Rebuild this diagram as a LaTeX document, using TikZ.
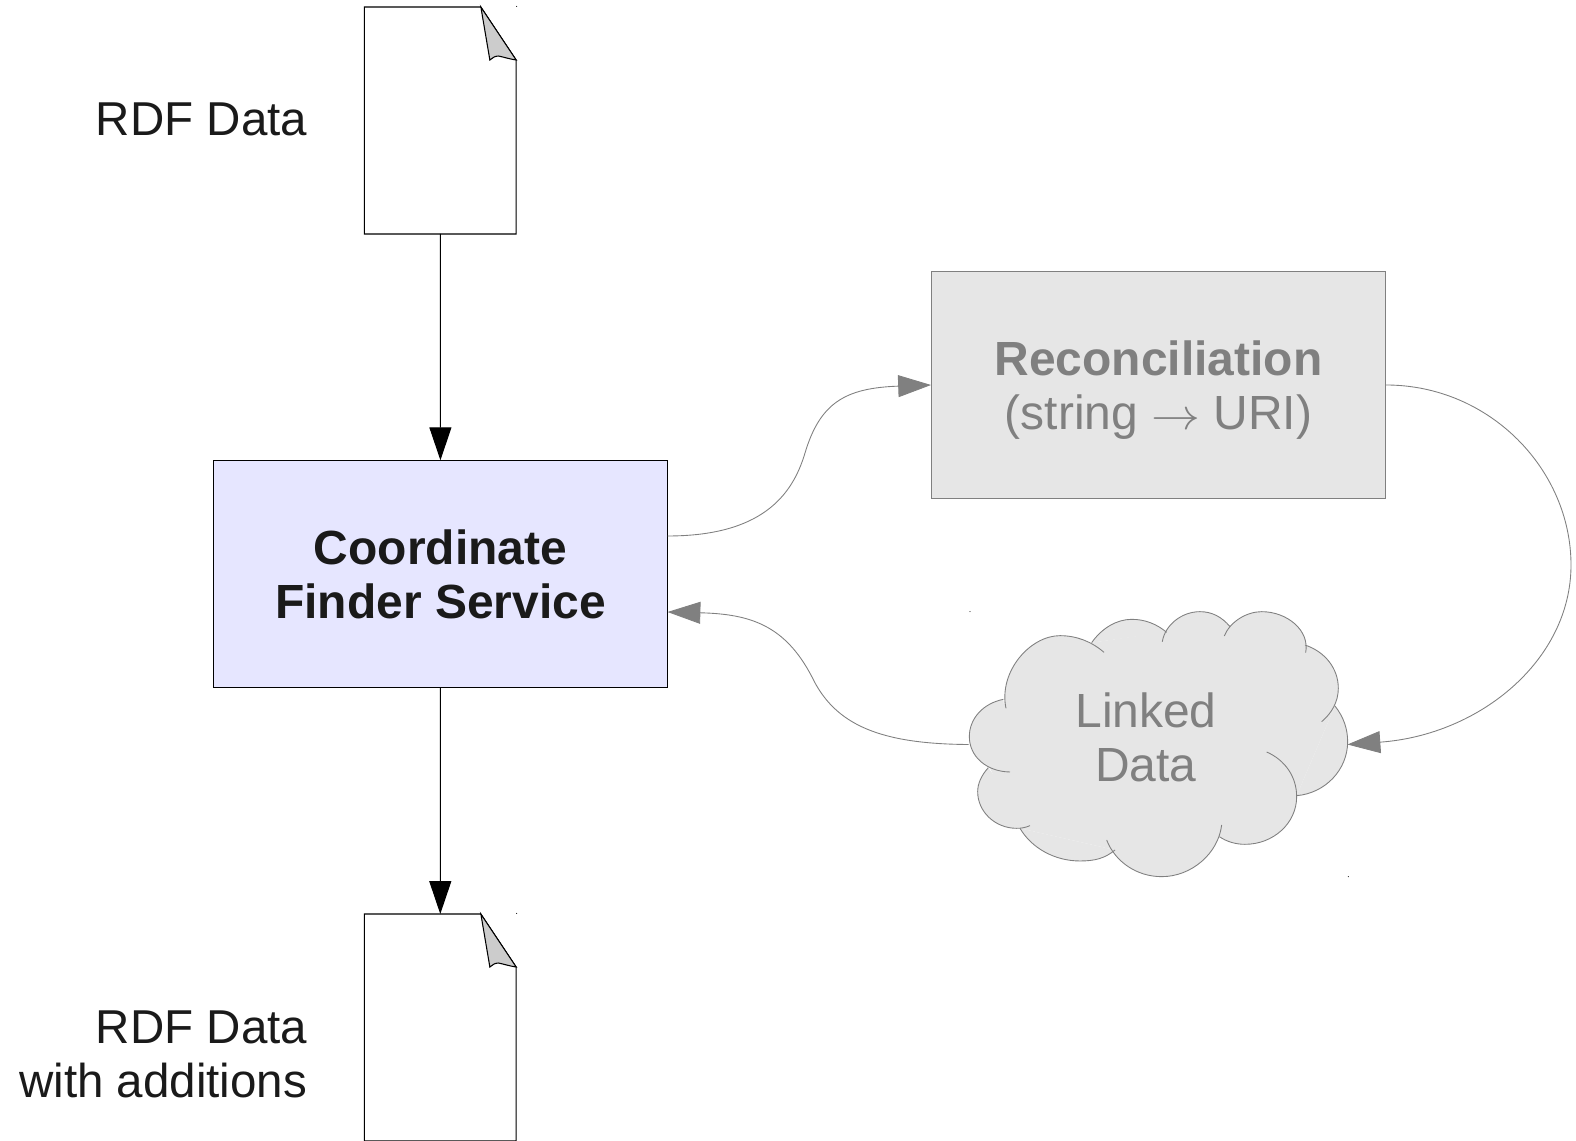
\documentclass[tikz,border=0pt]{standalone}
\usepackage{fontspec}
\setmainfont{Liberation Sans}
\usetikzlibrary{arrows.meta}
\definecolor{servicefill}{RGB}{230,230,255}
\definecolor{softgray}{RGB}{128,128,128}
\definecolor{palegray}{RGB}{230,230,230}
\definecolor{foldgray}{RGB}{204,204,204}
\definecolor{darktext}{RGB}{26,26,26}
\tikzset{
    big text/.style={font=\fontsize{27.3}{30.8}\selectfont, inner sep=0pt},
    label text/.style={font=\fontsize{27.05}{30.8}\selectfont, inner sep=0pt, text=darktext, align=right},
    main box/.style={draw, line width=0.6pt, outer sep=0pt, inner sep=0pt,
        minimum width=9.1cm, minimum height=4.55cm},
    doc page/.style={minimum width=3.03cm, minimum height=4.54cm, inner sep=0pt, outer sep=0pt},
    black link/.style={line width=0.6pt, -{Triangle[length=18.7pt,width=12.5pt]}},
    gray link/.style={line width=0.5pt, draw=softgray, -{Triangle[length=18.7pt,width=12.5pt,fill=softgray]}},
}
% page with a folded corner, sized by its node
\newcommand{\docpage}[2]{
    \node[doc page] (#1) at (#2) {};
    \begin{scope}[shift={(#1.north west)}, line width=0.6pt]
        \draw[fill=white] (0,0) -- (116.4,0) -- (151.7,53) -- (151.7,227) -- (0,227) -- cycle;
        \draw[fill=foldgray] (116.4,0) -- (125.4,53) .. controls (128,51) and (130,49) .. (134,49) .. controls (139,50) and (145,52) .. (151.7,53) -- cycle;
        \fill (152.2,-0.6) circle (0.3pt);
    \end{scope}
}
% lobes of the cloud, open curves, same list for fill and for outline
\newcommand{\cloudlobes}[1]{
    \path[#1] (150,516) .. controls (80,515) and (28,470) .. (28,410) .. controls (28,355) and (70,310) .. (130,298);
    \path[#1] (138,325) .. controls (115,215) and (210,107) .. (300,107) .. controls (350,107) and (395,125) .. (432,157);
    \path[#1] (395,128) .. controls (425,85) and (470,58) .. (515,58) .. controls (555,58) and (590,72) .. (620,97);
    \path[#1] (607,125) .. controls (615,75) and (665,35) .. (720,35) .. controls (755,35) and (785,50) .. (810,80);
    \path[#1] (793,108) .. controls (810,65) and (860,35) .. (905,35) .. controls (980,35) and (1050,90) .. (1037,158);
    \path[#1] (1035,135) .. controls (1095,155) and (1135,205) .. (1135,265) .. controls (1135,305) and (1115,340) .. (1085,365);
    \path[#1] (1125,318) .. controls (1150,350) and (1163,385) .. (1163,425) .. controls (1163,510) and (1095,580) .. (1010,587);
    \path[#1] (920,456) .. controls (975,480) and (1010,530) .. (1010,590) .. controls (1010,670) and (940,733) .. (855,733) .. controls (827,733) and (800,725) .. (778,710);
    \path[#1] (785,675) .. controls (775,760) and (695,830) .. (605,830) .. controls (530,830) and (465,785) .. (440,720);
    \path[#1] (465,750) .. controls (435,775) and (405,783) .. (360,783) .. controls (285,783) and (215,745) .. (180,685);
    \path[#1] (210,677) .. controls (195,683) and (185,685) .. (170,685) .. controls (105,685) and (53,635) .. (53,575) .. controls (53,550) and (65,525) .. (85,503);
}
\begin{document}
\begin{tikzpicture}[x=0.02cm, y=-0.02cm]
    \useasboundingbox (0,0) rectangle (1576,1141);

    \docpage{inputdoc}{440.2,120.5}
    \docpage{outputdoc}{440.2,1027.5}
    \node[label text, anchor=east] (inputlabel) at (307.5,119.5) {RDF Data};
    \node[label text, anchor=east] (outputlabel) at (307.5,1054) {RDF Data\\with additions};

    \node[main box, fill=servicefill] (service) at (440.5,574) {};
    \node[big text, text=darktext, align=center] (servicetext) at (440.5,574.5) {\textbf{Coordinate}\\\textbf{Finder Service}};
    \node[main box, fill=palegray, draw=softgray] (recon) at (1158.5,385) {};
    \node[big text, text=softgray, align=center] (recontext) at (1158.5,390) {\textbf{Reconciliation}\\(string \scalebox{1.12}[1]{$\rightarrow$} URI)};

    \coordinate (serviceout) at (667.5,536);
    \coordinate (servicein) at (667.5,612);

    % cloud, its points read off in a finer grid
    \node[minimum width=7.58cm, minimum height=5.3cm, inner sep=0pt, outer sep=0pt] (cloud) at (1158,744.5) {};
    \begin{scope}[shift={(960,600)}, x=0.00667cm, y=-0.00667cm]
        \fill[palegray] (90,505) -- (133,300) -- (395,128) -- (607,97) -- (800,80) -- (1035,135) -- (1125,318) -- (1010,587) -- (778,710) -- (465,750) -- (180,685) -- cycle;
        \cloudlobes{fill=palegray}
        \cloudlobes{draw=softgray, line width=0.5pt}
        \fill (30,35) circle (0.3pt);
        \fill (1165,830) circle (0.3pt);
    \end{scope}
    \node[big text, text=softgray, align=center] (cloudtext) at (1146,737.5) {Linked\\Data};

    \draw[black link] (inputdoc) -- (service);
    \draw[black link] (service) -- (outputdoc);
    \draw[gray link] (serviceout) .. controls (760,536) and (792,497) .. (805,453) .. controls (820,403) and (845,388) .. (recon.west);
    \draw[gray link] (recon.east) .. controls (1490,385) and (1571,470) .. (1571,565) .. controls (1571,660) and (1480,735) .. (cloud.east);
    \draw[gray link] (cloud.west) .. controls (880,744) and (835,725) .. (812,677) .. controls (785,625) and (750,614) .. (servicein);
\end{tikzpicture}
\end{document}
